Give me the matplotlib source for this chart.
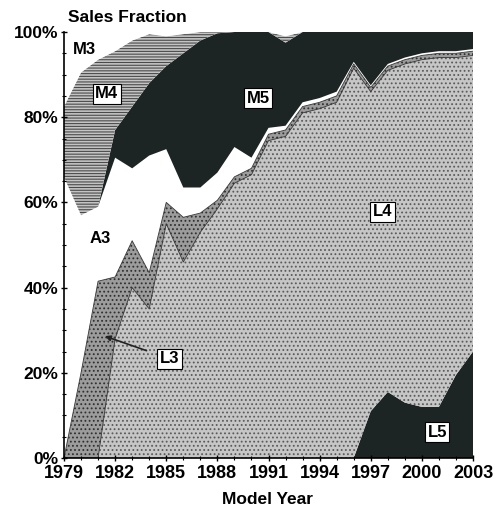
import matplotlib
matplotlib.use("Agg")
import matplotlib.pyplot as plt
import numpy as np

plt.rcParams['font.family'] = ['Liberation Sans', 'DejaVu Sans']
plt.rcParams['hatch.linewidth'] = 0.8

years = list(range(1979, 2004))
# Layer shares (%), bottom to top
L5 = [0]*18 + [11, 15.5, 13, 12, 12, 19.5, 25]
L4 = [0, 0, 0, 28, 40, 35, 55, 46, 53, 58.5, 64.5, 66.5, 74.5, 75.5, 81, 82, 83.5,
      91.5, 75, 75.5, 79.5, 81.5, 82, 74.5, 69.5]
L3 = [0, 20, 41.5, 14.5, 11, 8.5, 5, 10.5, 4.5, 2, 1.5, 1.5, 1.5, 1.5, 1.5, 1.5, 1.5,
      1, 1, 1, 1, 1, 1, 1, 1]
A3 = [66, 37, 17.5, 28, 17, 27.5, 12.5, 7, 6, 6.5, 7, 2.5, 1.5, 1, 1, 1, 1,
      0.5, 0.5, 0.5, 0.5, 0.5, 0.5, 0.5, 0.5]
M5 = [0, 0, 0, 6.5, 14.5, 17, 19.5, 31.5, 34.5, 32.7, 27, 29.5, 22.5, 19.5, 16.5, 15.5, 14,
      7, 12.5, 7.5, 6, 5, 4.5, 4.5, 4]
M4 = [16.5, 33.5, 34.5, 18.5, 15.5, 11.5, 7, 4.5, 2, 0.3, 0, 0, 0, 1.5, 0, 0, 0,
      0, 0, 0, 0, 0, 0, 0, 0]
M3 = [17.5, 9.5, 6.5, 4.5, 2, 0.5, 1, 0.5, 0, 0, 0, 0, 0, 1, 0, 0, 0,
      0, 0, 0, 0, 0, 0, 0, 0]
series_names = ["L5", "L4", "L3", "A3", "M5", "M4", "M3"]
xtick_years = list(range(1979, 2004, 3))
ytick_vals = [0, 20, 40, 60, 80, 100]

W, H = 496, 525
fig = plt.figure(figsize=(W/100, H/100), dpi=100)
ax = fig.add_axes([64/W, 1-458/H, (473-64)/W, (458-32)/H])

dark = '#1c2424'
faces = [dark, '#c6c6c6', '#9c9c9c', 'white', dark, '#c4c4c4', 'white']
hatches = [None, '....', '....', None, None, '------', None]
hcolors = [dark, '#5a5a5a', '#303030', 'white', dark, '#4a4a4a', 'white']

polys = ax.stackplot(years, L5, L4, L3, A3, M5, M4, M3, colors=faces, linewidth=0)
for p, h, hc in zip(polys, hatches, hcolors):
    if h:
        p.set_hatch(h)
        p.set_edgecolor(hc)
        p.set_linewidth(0)

# thin boundary lines
cum = np.cumsum(np.array([L5, L4, L3, A3, M5, M4]), axis=0)
for i in [1, 2]:
    ax.plot(years, cum[i], color='#333333', lw=0.6)

ax.set_xlim(1979, 2003)
ax.set_ylim(0, 100)
ax.set_xticks(xtick_years)
ax.set_xticklabels([str(y) for y in xtick_years], fontsize=13, fontweight='bold')
ax.set_xticks(range(1979, 2004), minor=True)
ax.set_yticks(ytick_vals)
ax.set_yticklabels([f"{v}%" for v in ytick_vals], fontsize=12.5, fontweight='bold')
ax.set_yticks(range(0, 101, 5), minor=True)
ax.tick_params(axis='both', which='major', length=4, width=1, direction='inout')
ax.tick_params(axis='both', which='minor', length=3, width=0.8, direction='inout')
ax.tick_params(axis='x', pad=3)
ax.tick_params(axis='y', pad=2)
for s in ['top', 'right']:
    ax.spines[s].set_visible(False)
ax.spines['left'].set_linewidth(1.2)
ax.spines['bottom'].set_linewidth(1.2)

box = dict(boxstyle='square,pad=0.15', facecolor='white', edgecolor='black', lw=0.8)
tkw = dict(fontsize=12, fontweight='bold', ha='center', va='center')
ax.text(1980.2, 96, "M3", **tkw)
ax.text(1981.5, 85.5, "M4", bbox=box, **tkw)
ax.text(1990.4, 84.5, "M5", bbox=box, **tkw)
ax.text(1981.1, 51.5, "A3", **tkw)
ax.text(1997.7, 57.8, "L4", bbox=box, **tkw)
ax.text(2000.9, 6, "L5", bbox=box, **tkw)
ax.annotate("L3", xy=(1981.4, 28.6), xytext=(1985.2, 23.3),
            arrowprops=dict(arrowstyle='-|>', color='#222222', lw=1.2, mutation_scale=8,
                            shrinkA=8, shrinkB=0),
            bbox=box, **tkw)

fig.text(68/W, 1-18/H, "Sales Fraction", fontsize=12.5, fontweight='bold', ha='left', va='center')
fig.text(268/W, 1-500/H, "Model Year", fontsize=12.5, fontweight='bold', ha='center', va='center')

fig.savefig("out.png", dpi=100)
